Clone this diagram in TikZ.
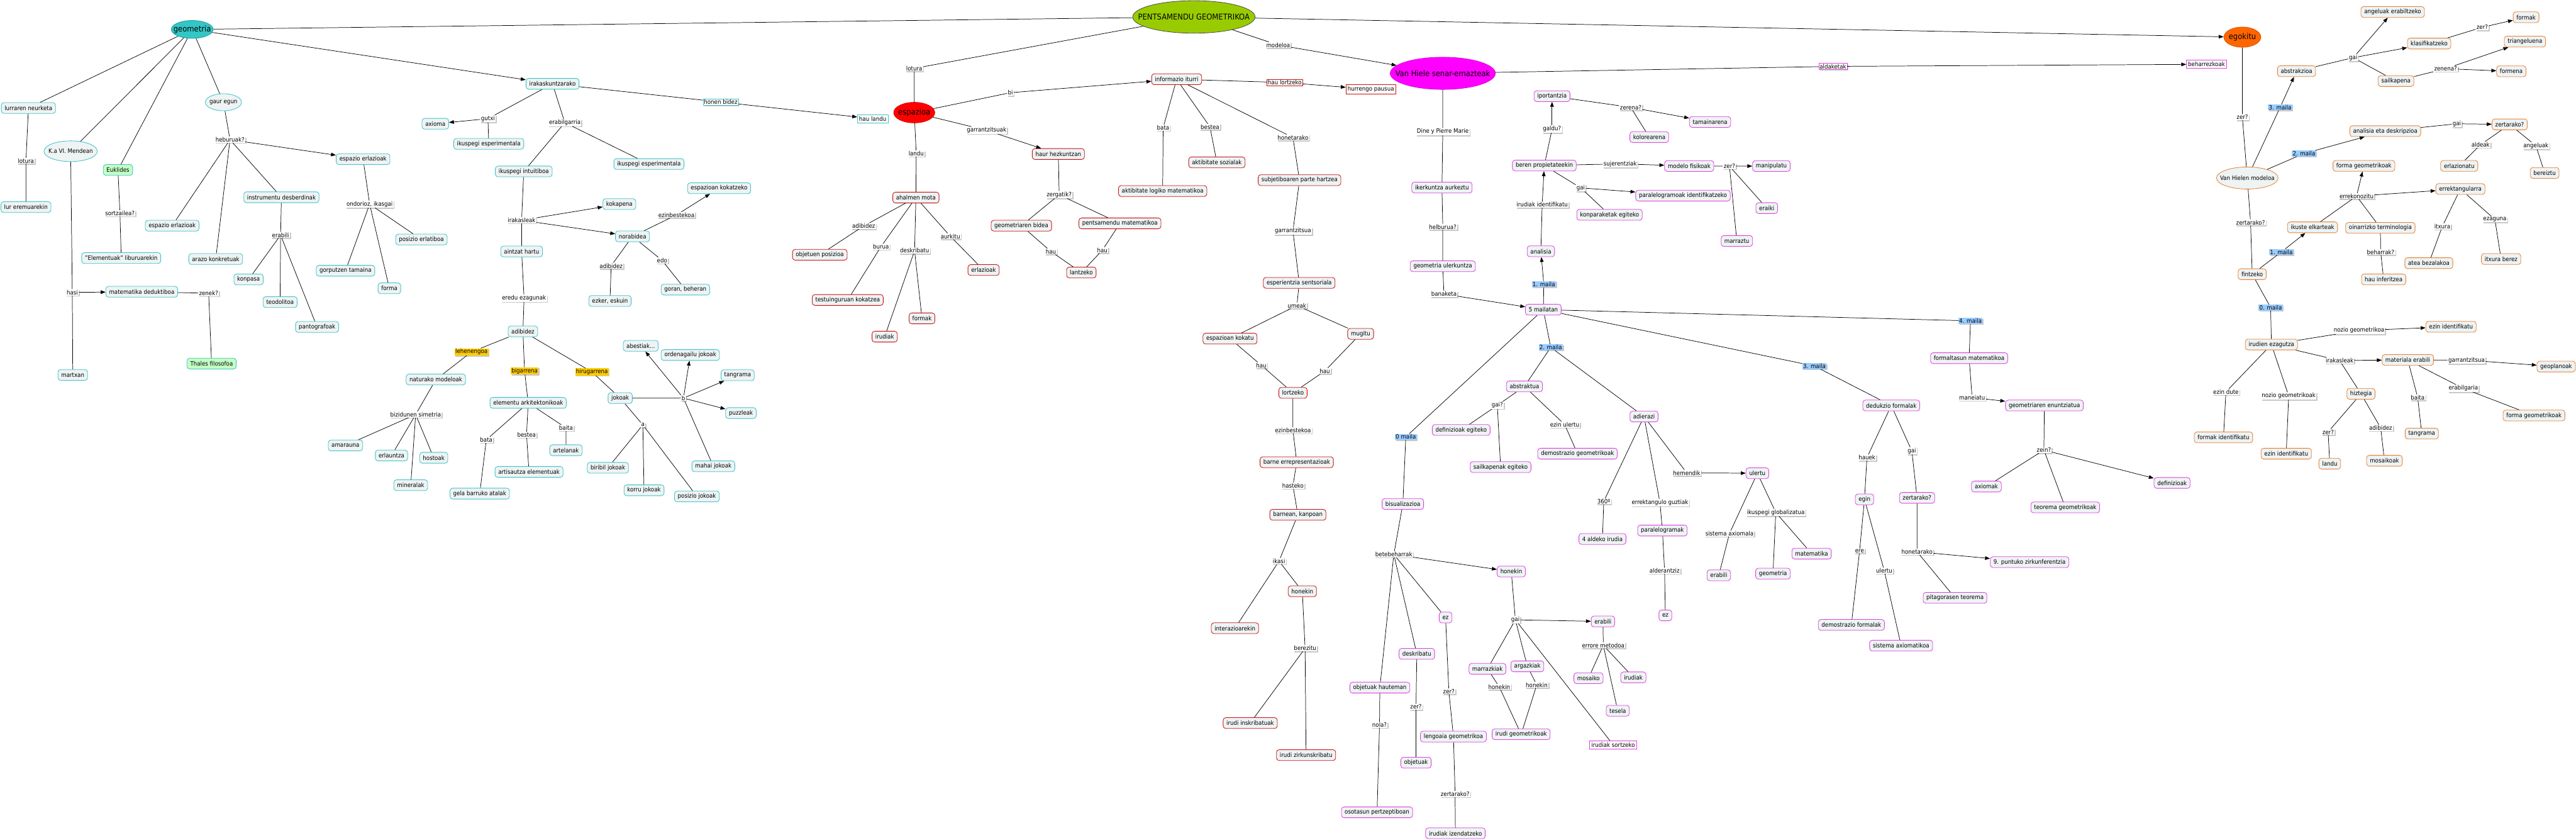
\documentclass[tikz,border=0pt]{standalone}
\usepackage{fontspec}
\setmainfont{DejaVu Sans Condensed}
\usepackage{xcolor}
\usepackage{tikz}
\usetikzlibrary{arrows.meta,shapes.geometric,shadows}

\definecolor{boxfill}{HTML}{EEF3F4}
\definecolor{cyanline}{HTML}{3CC3C8}
\definecolor{redline}{HTML}{CC1010}
\definecolor{magline}{HTML}{E040E0}
\definecolor{orgline}{HTML}{E8802E}
\definecolor{greenfill}{HTML}{C4FFC4}
\definecolor{shadowgray}{HTML}{C8C8C8}
\definecolor{levelblue}{HTML}{99CCFF}
\definecolor{ordyellow}{HTML}{FFCC00}
\definecolor{geocyan}{HTML}{33C6C6}
\definecolor{pentgreen}{HTML}{99CC00}
\definecolor{egokorange}{HTML}{FF6600}
\definecolor{vhmagenta}{HTML}{FF00FF}
\definecolor{espred}{HTML}{FF0000}

\begin{document}
\begin{tikzpicture}[
      x=1mm, y=-1mm,
      every node/.style={font=\fontsize{10.5}{12}\selectfont},
      big/.style={font=\fontsize{14}{16}\selectfont},
      box/.style={draw, rounded corners=1.6mm, fill=boxfill, line width=0.9pt,
        inner xsep=2mm, inner ysep=1mm, minimum height=6.6mm},
      cy/.style={box, draw=cyanline},
      rd/.style={box, draw=redline},
      mg/.style={box, draw=magline},
      og/.style={box, draw=orgline},
      gr/.style={box, draw=cyanline, fill=greenfill},
      ell/.style={ellipse, inner sep=0pt, line width=0.9pt},
      sq/.style={draw, fill=white, line width=0.8pt, inner xsep=1mm, inner ysep=1mm},
      phrase/.style={fill=white, inner xsep=0.5mm, inner ysep=0.4mm,
        general shadow={fill=shadowgray, shadow xshift=0.6mm, shadow yshift=-0.6mm}},
      lvl/.style={phrase, fill=levelblue},
      ord/.style={phrase, fill=ordyellow},
      ln/.style={line width=0.8pt},
      arr/.style={ln, -{Triangle[length=3mm,width=2.2mm]}}
    ]
    \useasboundingbox (0,0) rectangle (1568,511);

    \node[ell, fill=geocyan, draw=geocyan!80!black, minimum width=25.5mm, minimum height=10.9mm,
      label={[big]center:geometria}] (geo) at (117,17.9) {};
    \node[ell, fill=pentgreen, draw=black!70, minimum width=74.5mm, minimum height=19.8mm,
      label={[big]center:PENTSAMENDU GEOMETRIKOA}] (pents) at (726.7,10.3) {};
    \node[ell, fill=espred, draw=espred!85!black, minimum width=25mm, minimum height=12.5mm,
      label={[big]center:espazioa}] (espaz) at (556.5,68.5) {};
    \node[ell, fill=vhmagenta, draw=vhmagenta!85!black, minimum width=64mm, minimum height=19.6mm,
      label={[big]center:Van Hiele senar-emazteak}] (vhiele) at (878.2,44.6) {};
    \node[ell, fill=egokorange, draw=egokorange!85!black, minimum width=22.5mm, minimum height=12.3mm,
      label={[big]center:egokitu}] (egok) at (1364.9,22.6) {};
    \node[ell, fill=boxfill, draw=cyanline, minimum width=32.5mm, minimum height=12.6mm,
      label={center:K.a VI. Mendean}] (kaVI) at (43,92) {};
    \node[ell, fill=boxfill, draw=cyanline, minimum width=22mm, minimum height=10.4mm,
      label={center:gaur egun}] (gaur) at (136,62.2) {};
    \node[ell, fill=boxfill, draw=orgline, minimum width=37.5mm, minimum height=13.4mm,
      label={center:Van Hielen modeloa}] (vhmod) at (1367.9,108.3) {};

    \node[cy] (lurra) at (17.3,65.7) {lurraren neurketa};
    \node[phrase] (lotA) at (15.8,97.8) {lotura};
    \node[cy] (lureremu) at (15.8,126) {lur eremuarekin};
    \node[phrase] (hasi) at (44,177.9) {hasi};
    \node[cy] (matded) at (86.3,177.5) {matematika deduktiboa};
    \node[phrase] (zenek) at (127,178.4) {zenek?};
    \node[gr] (thales) at (128.8,221.2) {Thales filosofoa};
    \node[cy] (martxan) at (44.3,228.1) {martxan};
    \node[gr] (eukl) at (71.8,103.4) {Euklides};
    \node[phrase] (sortz) at (73,129.7) {sortzailea?};
    \node[cy] (elem) at (73.8,157) {"Elementuak" liburuarekin};
    \node[phrase] (hebur) at (140,85) {heburuak?};
    \node[cy] (esperlL) at (104.8,137.3) {espazio erlazioak};
    \node[cy] (esperlR) at (221,96.8) {espazio erlazioak};
    \node[cy] (arazo) at (131.3,157.6) {arazo konkretuak};
    \node[cy] (instr) at (171.3,120) {instrumentu desberdinak};
    \node[phrase] (erabA) at (170.8,143) {erabili};
    \node[cy] (konpasa) at (151.3,170) {konpasa};
    \node[cy] (teodol) at (170.5,183.8) {teodolitoa};
    \node[cy] (panto) at (193,198.9) {pantografoak};
    \node[phrase] (ondor) at (225,124.2) {ondorioz, ikasgai};
    \node[cy] (posiz) at (256.5,145.7) {posizio erlatiboa};
    \node[cy] (gorp) at (210.3,164.7) {gorputzen tamaina};
    \node[cy] (formaA) at (237,175.4) {forma};
    \node[cy] (irak) at (336.3,51) {irakaskuntzarako};
    \node[phrase] (gutxi) at (297,72.2) {gutxi};
    \node[cy] (axioma) at (265,75.3) {axioma};
    \node[cy] (ikesp1) at (297.5,87.5) {ikuspegi esperimentala};
    \node[phrase] (erabilg) at (343.8,74.6) {erabilgarria};
    \node[cy] (ikint) at (318.8,104.3) {ikuspegi intuitiboa};
    \node[cy] (ikesp2) at (395,99.8) {ikuspegi esperimentala};
    \node[phrase] (irakA) at (317.5,134) {irakasleak};
    \node[cy] (kokap) at (377,124.2) {kokapena};
    \node[cy] (norab) at (385,143.8) {norabidea};
    \node[cy] (aintz) at (317.5,153) {aintzat hartu};
    \node[phrase] (adibA) at (372,161.7) {adibidez};
    \node[cy] (ezker) at (371.3,183.1) {ezker, eskuin};
    \node[phrase] (edo) at (403,158.4) {edo};
    \node[cy] (goran) at (417.2,176.2) {goran, beheran};
    \node[phrase] (ezinA) at (411.7,130.8) {ezinbestekoa};
    \node[cy] (espkokz) at (437.7,114.5) {espazioan kokatzeko};
    \node[phrase, draw=cyanline, line width=0.6pt] (honenb) at (438.7,62.1) {honen bidez};
    \node[sq, draw=cyanline] (haulandu) at (531.2,72.2) {hau landu};
    \node[phrase] (eredu) at (319,181.4) {eredu ezagunak};
    \node[cy] (adibB) at (318.3,201.6) {adibidez};
    \node[ord] (lehen) at (287,214.1) {lehenengoa};
    \node[ord] (bigar) at (319.3,225.7) {bigarrena};
    \node[ord] (hirug) at (360.3,226.3) {hirugarrena};
    \node[cy] (natur) at (265.3,230.9) {naturako modeloak};
    \node[phrase] (bizid) at (253,252.2) {bizidunen simetria};
    \node[cy] (amara) at (210.3,271) {amarauna};
    \node[cy] (erlau) at (238.3,277.1) {erlauntza};
    \node[cy] (hosto) at (264,278.5) {hostoak};
    \node[cy] (miner) at (250,295.2) {mineralak};
    \node[cy] (elemark) at (321.5,245.1) {elementu arkitektonikoak};
    \node[phrase] (bataA) at (296,267.6) {bata};
    \node[phrase] (besteaA) at (320.5,264.5) {bestea};
    \node[phrase] (baitaA) at (344.5,260.3) {baita};
    \node[cy] (gela) at (292,300.3) {gela barruko atalak};
    \node[cy] (artis) at (322,287.1) {artisautza elementuak};
    \node[cy] (artel) at (344.5,273.9) {artelanak};
    \node[cy] (jokoak) at (377.5,242.2) {jokoak};
    \node[phrase] (bL) at (416,242.2) {b};
    \node[phrase] (aL) at (391.3,258.5) {a};
    \node[cy] (abest) at (390,210.4) {abestiak...};
    \node[cy] (ordena) at (420.2,216) {ordenagailu jokoak};
    \node[cy] (tangA) at (449,228.3) {tangrama};
    \node[cy] (puzz) at (451,251.3) {puzzleak};
    \node[cy] (mahai) at (434.2,283.7) {mahai jokoak};
    \node[cy] (birib) at (370,284.6) {biribil jokoak};
    \node[cy] (korru) at (392,298.3) {korru jokoak};
    \node[cy] (posjok) at (424.2,302) {posizio jokoak};

    \node[phrase] (lotB) at (556.5,41.6) {lotura};
    \node[phrase] (bi) at (615,56.4) {bi};
    \node[rd] (infit) at (716.2,48.2) {informazio iturri};
    \node[phrase, draw=redline, line width=0.6pt] (haulortz) at (782,50.2) {hau lortzeko};
    \node[sq, draw=redline] (hurreng) at (834.4,54.3) {hurrengo pausua};
    \node[phrase] (modeloa) at (778,27.4) {modeloa};
    \node[phrase] (garrs) at (600.5,79.3) {garrantzitsuak};
    \node[rd] (haurh) at (644.2,93.7) {haur hezkuntzan};
    \node[phrase] (landuA) at (557.7,93.3) {landu};
    \node[phrase] (bataB) at (708,77.7) {bata};
    \node[phrase] (besteaB) at (736.5,77.2) {bestea};
    \node[phrase] (honetA) at (787,83.7) {honetarako};
    \node[rd] (aktsoz) at (740.7,98.8) {aktibitate sozialak};
    \node[rd] (aktlog) at (707.7,116.2) {aktibitate logiko matematikoa};
    \node[rd] (subj) at (791,109.6) {subjetiboaren parte hartzea};
    \node[phrase] (garrA) at (787,140.6) {garrantzitsua};
    \node[rd] (ahal) at (557.5,120.2) {ahalmen mota};
    \node[phrase] (adibC) at (525.7,137.5) {adibidez};
    \node[phrase] (burua) at (536.2,150.1) {burua};
    \node[phrase] (deskA) at (556.7,152.5) {deskribatu};
    \node[phrase] (aurkitu) at (578.5,143.8) {aurkitu};
    \node[rd] (objpos) at (499,155) {objetuen posizioa};
    \node[rd] (erlaz) at (598.7,164.3) {erlazioak};
    \node[rd] (testu) at (516,182.5) {testuinguruan kokatzea};
    \node[rd] (formakA) at (561.2,193.7) {formak};
    \node[rd] (irudiakA) at (538.5,204.8) {irudiak};
    \node[phrase] (zergatik) at (644.7,118.5) {zergatik?};
    \node[rd] (geobid) at (621.7,137.3) {geometriaren bidea};
    \node[rd] (pentmat) at (681.7,135.9) {pentsamendu matematikoa};
    \node[phrase] (hauA) at (639.7,153) {hau};
    \node[phrase] (hauB) at (671,152.2) {hau};
    \node[rd] (lantzeko) at (658.2,165.8) {lantzeko};
    \node[rd] (espsent) at (790.8,172.1) {esperientzia sentsoriala};
    \node[phrase] (umeak) at (789.4,185.9) {umeak};
    \node[rd] (espkok) at (748.7,206) {espazioan kokatu};
    \node[rd] (mugitu) at (828.2,203.1) {mugitu};
    \node[phrase] (hauC) at (767.7,222.2) {hau};
    \node[phrase] (hauD) at (806.4,225.7) {hau};
    \node[rd] (lortz) at (787,239) {lortzeko};
    \node[phrase] (ezinB) at (787,261.8) {ezinbestekoa};
    \node[rd] (barnerr) at (789.3,281.2) {barne errepresentazioak};
    \node[phrase] (hasteko) at (787,295.5) {hasteko};
    \node[rd] (barnkan) at (790,313.2) {barnean, kanpoan};
    \node[phrase] (ikasi) at (778.5,341.4) {ikasi};
    \node[rd] (interaz) at (751.7,382.2) {interazioarekin};
    \node[rd] (honekinR) at (792.7,359.7) {honekin};
    \node[phrase] (berez) at (794.4,394.4) {berezitu};
    \node[rd] (inskr) at (761,439.9) {irudi inskribatuak};
    \node[rd] (zirk) at (795,459.4) {irudi zirkunskribatu};

    \node[phrase, draw=magline, line width=0.6pt] (aldak) at (1115.7,40.4) {aldaketak};
    \node[sq, draw=magline] (beharr) at (1343.1,39.1) {beharrezkoak};
    \node[phrase] (dine) at (878.2,80.1) {Dine y Pierre Marie};
    \node[mg] (iker) at (877.7,114.1) {ikerkuntza aurkeztu};
    \node[phrase] (helb) at (878.2,138) {helburua?};
    \node[mg] (geoul) at (878.2,162) {geometria ulerkuntza};
    \node[phrase] (banak) at (878.9,178.9) {banaketa};
    \node[mg] (mail5) at (939.4,188.4) {5 mailatan};
    \node[lvl] (m1) at (939.7,172.9) {1. maila};
    \node[mg] (analisia) at (937.9,152.9) {analisia};
    \node[phrase] (irudid) at (938.7,124.5) {irudiak identifikatu};
    \node[mg] (berenp) at (940,100.7) {beren propietateekin};
    \node[phrase] (galdu) at (944.7,78.6) {galdu?};
    \node[mg] (iport) at (944.7,58.5) {iportantzia};
    \node[phrase] (zerena) at (992.6,65.3) {zerena?};
    \node[mg] (tamain) at (1040.9,74.2) {tamainarena};
    \node[mg] (kolor) at (1003.9,83.4) {kolorearena};
    \node[phrase] (suj) at (986.2,99.7) {sujerentziak};
    \node[mg] (modfis) at (1028.2,101) {modelo fisikoak};
    \node[phrase] (zerA) at (1052.7,101.1) {zer?};
    \node[mg] (manip) at (1078.2,101) {manipulatu};
    \node[mg] (eraiki) at (1075.4,126.6) {eraiki};
    \node[mg] (marrz) at (1057.2,146.6) {marraztu};
    \node[phrase] (gaiA) at (962.2,114.3) {gai};
    \node[mg] (paral) at (1024.4,119) {paralelogramoak identifikatzeko};
    \node[mg] (konpar) at (979.7,130.7) {konparaketak egiteko};
    \node[lvl] (m2) at (943.9,211.3) {2. maila};
    \node[lvl] (m3) at (1104.4,222.7) {3. maila};
    \node[lvl] (m4) at (1199.4,195.2) {4. maila};
    \node[lvl] (m0) at (855.7,265.8) {0 maila};
    \node[mg] (abstr) at (927.9,235.1) {abstraktua};
    \node[phrase] (gaiB) at (911.4,246.6) {gai?};
    \node[mg] (defeg) at (889.4,261.6) {definizioak egiteko};
    \node[mg] (sailkeg) at (913.4,284.2) {sailkapenak egiteko};
    \node[phrase] (ezinul) at (952.4,258.3) {ezin ulertu};
    \node[mg] (demgeo) at (960.2,276) {demostrazio geometrikoak};
    \node[mg] (adier) at (1000.7,253.4) {adierazi};
    \node[phrase] (hemend) at (1026.7,287.7) {hemendik};
    \node[mg] (ulertuA) at (1069.7,287.9) {ulertu};
    \node[phrase] (l360) at (976.2,305) {360º};
    \node[mg] (aldeko) at (975.4,327.9) {4 aldeko irudia};
    \node[phrase] (errgu) at (1010.4,305.8) {errektangulo guztiak};
    \node[mg] (paralk) at (1011.9,322.8) {paralelogramak};
    \node[phrase] (ikglob) at (1080.9,311.8) {ikuspegi globalizatua};
    \node[phrase] (sisax) at (1052.7,324.6) {sistema axiomala};
    \node[mg] (matem) at (1102.7,336.8) {matematika};
    \node[mg] (dedukz) at (1151.2,246.7) {dedukzio formalak};
    \node[phrase] (hauek) at (1136.4,278.4) {hauek};
    \node[phrase] (gaiC) at (1163.7,274.3) {gai};
    \node[mg] (egin) at (1134.9,303.8) {egin};
    \node[mg] (zertarA) at (1166.9,302.9) {zertarako?};
    \node[phrase] (ere) at (1131.9,335.2) {ere};
    \node[phrase] (honetB) at (1166.9,335.7) {honetarako};
    \node[mg] (bisual) at (853.9,306.6) {bisualizazioa};
    \node[phrase] (betebeh) at (848.4,337.3) {betebeharrak};
    \node[mg] (honekinM) at (919.9,347.7) {honekin};
    \node[mg] (ezA) at (879.9,375.7) {ez};
    \node[mg] (deskB) at (862.4,397.8) {deskribatu};
    \node[mg] (objhaut) at (839.9,418.3) {objetuak hauteman};
    \node[phrase] (nola) at (839.7,440.9) {nola?};
    \node[mg] (osotas) at (838.2,494.2) {osotasun pertzeptiboan};
    \node[phrase] (zerB) at (881.9,420.6) {zer?};
    \node[mg] (lengo) at (884.7,448.1) {lengoaia geometrikoa};
    \node[phrase] (zertarB) at (885.7,483) {zertarako?};
    \node[mg] (irizend) at (885.9,507) {irudiak izendatzeko};
    \node[phrase] (zerC) at (861.9,430) {zer?};
    \node[mg] (objetuak) at (861.9,464) {objetuak};
    \node[phrase] (gaiD) at (922.4,377.1) {gai};
    \node[mg] (erabM) at (975.7,378.1) {erabili};
    \node[phrase] (errmet) at (975.9,392.6) {errore metodoa};
    \node[mg] (mosaiko) at (966.9,412.6) {mosaiko};
    \node[mg] (irudiakM) at (994.2,412.1) {irudiak};
    \node[mg] (tesela) at (984.7,432.4) {tesela};
    \node[mg] (marrazk) at (905.4,406.9) {marrazkiak};
    \node[mg] (argazk) at (929.7,405.4) {argazkiak};
    \node[phrase] (honekL) at (912.6,417.9) {honekin};
    \node[phrase] (honekR) at (935.4,416.7) {honekin};
    \node[mg] (irgeo) at (925.9,446.7) {irudi geometrikoak};
    \node[sq, draw=magline] (irsortz) at (981.9,453.1) {irudiak sortzeko};
    \node[phrase] (alder) at (1013.2,347.1) {alderantziz};
    \node[mg] (ezB) at (1013.7,374.4) {ez};
    \node[mg] (erabN) at (1046.2,350) {erabili};
    \node[mg] (geometriaM) at (1079.2,349) {geometria};
    \node[mg] (demform) at (1126.9,380.2) {demostrazio formalak};
    \node[phrase] (ulertuB) at (1146.9,347.1) {ulertu};
    \node[mg] (sisaxk) at (1157.2,392.8) {sistema axiomatikoa};
    \node[mg] (pitag) at (1190,363.7) {pitagorasen teorema};
    \node[mg] (puntu9) at (1235.4,342) {9. puntuko zirkunferentzia};
    \node[mg] (formalt) at (1198.6,217.9) {formaltasun matematikoa};
    \node[phrase] (maneiatu) at (1200.4,241.9) {maneiatu};
    \node[mg] (geoenun) at (1244.4,246.7) {geometriaren enuntziatua};
    \node[phrase] (zein) at (1244.1,273.8) {zein?};
    \node[mg] (axiomak) at (1209.1,296) {axiomak};
    \node[mg] (teorem) at (1257.1,308.7) {teorema geometrikoak};
    \node[mg] (definiz) at (1322.1,293.8) {definizioak};

    \node[phrase] (zerD) at (1364.9,71.3) {zer?};
    \node[lvl] (om3) at (1387.9,65.3) {3. maila};
    \node[og] (abstrz) at (1397.9,43.3) {abstrakzioa};
    \node[phrase] (gaiE) at (1432.4,35.1) {gai};
    \node[og] (angerab) at (1456.4,7.3) {angeluak erabiltzeko};
    \node[og] (klasif) at (1478.6,26.5) {klasifikatzeko};
    \node[phrase] (zerE) at (1510.9,16.6) {zer?};
    \node[og] (formakB) at (1537.6,10.5) {formak};
    \node[og] (sailk) at (1458.4,49.3) {sailkapena};
    \node[phrase] (zenena) at (1488.6,41.8) {zenena?};
    \node[og] (triang) at (1536.9,25.3) {triangeluena};
    \node[og] (formena) at (1528.6,43.4) {formena};
    \node[lvl] (om2) at (1402.4,93.4) {2. maila};
    \node[og] (anades) at (1451.9,79.8) {analisia eta deskripzioa};
    \node[phrase] (gaiF) at (1495.4,75.3) {gai};
    \node[og] (zertarC) at (1527.6,75.7) {zertarako?};
    \node[phrase] (aldeak) at (1509.9,88) {aldeak};
    \node[phrase] (angel) at (1543.6,88.7) {angeluak};
    \node[og] (erlazio) at (1496.9,100.9) {erlazionatu};
    \node[og] (bereiz) at (1548.9,105.2) {bereiztu};
    \node[og] (formgeoA) at (1438.9,100.9) {forma geometrikoak};
    \node[phrase] (errek) at (1434.4,119.3) {errekonozitu};
    \node[og] (errekt) at (1497.6,115) {errektangularra};
    \node[og] (ikelk) at (1407.6,138.3) {ikuste elkarteak};
    \node[og] (oinarr) at (1448.9,138.6) {oinarrizko terminologia};
    \node[phrase] (zertarD) at (1369.9,135.3) {zertarako?};
    \node[og] (fintz) at (1370.9,166.8) {fintzeko};
    \node[lvl] (om1) at (1388.6,153.3) {1. maila};
    \node[phrase] (beharrak) at (1449.1,153.3) {beharrak?};
    \node[og] (hauinf) at (1450.9,170) {hau inferitzea};
    \node[phrase] (itxura) at (1486.6,137.8) {itxura};
    \node[phrase] (ezaguna) at (1518.6,133.5) {ezaguna};
    \node[og] (atea) at (1478.4,160.1) {atea bezalakoa};
    \node[og] (itxberez) at (1522.4,157.6) {itxura berez};
    \node[lvl] (om0) at (1382.1,187.1) {0. maila};
    \node[og] (iruez) at (1382.6,209.6) {irudien ezagutza};
    \node[phrase] (nozioA) at (1435.9,201.1) {nozio geometrikoa};
    \node[og] (ezinidA) at (1491.9,198.8) {ezin identifikatu};
    \node[phrase] (irakB) at (1424.1,219.3) {irakasleak};
    \node[og] (materi) at (1465.6,219) {materiala erabili};
    \node[phrase] (garrB) at (1501.4,219.1) {garrantzitsua};
    \node[og] (geopl) at (1555.9,223) {geoplanoak};
    \node[phrase] (ezindute) at (1354.9,238.4) {ezin dute};
    \node[phrase] (nozioB) at (1393.1,240.9) {nozio geometrikoak};
    \node[og] (hizt) at (1437.1,239.6) {hiztegia};
    \node[phrase] (zerF) at (1417.1,262.8) {zer?};
    \node[phrase] (adibD) at (1449.1,260.3) {adibidez};
    \node[phrase] (baitaB) at (1471.6,241.8) {baita};
    \node[phrase] (erabilga) at (1499.4,236.3) {erabilgaria};
    \node[og] (formgeoB) at (1542.4,252.8) {forma geometrikoak};
    \node[og] (formid) at (1353.4,266.1) {formak identifikatu};
    \node[og] (ezinidB) at (1391.6,276) {ezin identifikatu};
    \node[og] (landuB) at (1418.1,282.1) {landu};
    \node[og] (mosaik) at (1451.4,280.3) {mosaikoak};
    \node[og] (tangB) at (1474.1,263.8) {tangrama};

    \draw[ln] (geo) -- (pents);
    \draw[ln] (geo) -- (lurra) -- (lotA) -- (lureremu);
    \draw[ln] (geo) -- (kaVI) -- (hasi) -- (martxan);
    \draw[arr] (hasi) -- (matded);
    \draw[ln] (matded) -- (zenek) -- (thales);
    \draw[ln] (geo) -- (eukl) -- (sortz) -- (elem);
    \draw[ln] (geo) -- (gaur) -- (hebur) -- (esperlL);
    \draw[ln] (hebur) -- (arazo);
    \draw[ln] (hebur) -- (instr) -- (erabA) -- (konpasa);
    \draw[ln] (erabA) -- (teodol);
    \draw[ln] (erabA) -- (panto);
    \draw[arr] (hebur) -- (esperlR);
    \draw[ln] (esperlR) -- (ondor) -- (posiz);
    \draw[ln] (ondor) -- (gorp);
    \draw[ln] (ondor) -- (formaA);
    \draw[arr] (geo) -- (irak);
    \draw[ln] (irak) -- (honenb);
    \draw[arr] (honenb) -- (haulandu);
    \draw[ln] (irak) -- (gutxi) -- (ikesp1);
    \draw[arr] (gutxi) -- (axioma);
    \draw[ln] (irak) -- (erabilg) -- (ikint) -- (irakA) -- (aintz) -- (eredu) -- (adibB);
    \draw[ln] (erabilg) -- (ikesp2);
    \draw[arr] (irakA) -- (kokap);
    \draw[arr] (irakA) -- (norab);
    \draw[ln] (norab) -- (adibA) -- (ezker);
    \draw[ln] (norab) -- (edo) -- (goran);
    \draw[ln] (norab) -- (ezinA);
    \draw[arr] (ezinA) -- (espkokz);
    \draw[ln] (adibB) -- (lehen) -- (natur) -- (bizid) -- (amara);
    \draw[ln] (bizid) -- (erlau);
    \draw[ln] (bizid) -- (hosto);
    \draw[ln] (bizid) -- (miner);
    \draw[ln] (adibB) -- (bigar) -- (elemark) -- (bataA) -- (gela);
    \draw[ln] (elemark) -- (besteaA) -- (artis);
    \draw[ln] (elemark) -- (baitaA) -- (artel);
    \draw[ln] (adibB) -- (hirug) -- (jokoak) -- (bL) -- (mahai);
    \draw[arr] (bL) -- (abest);
    \draw[arr] (bL) -- (ordena);
    \draw[arr] (bL) -- (tangA);
    \draw[arr] (bL) -- (puzz);
    \draw[ln] (jokoak) -- (aL) -- (birib);
    \draw[ln] (aL) -- (korru);
    \draw[ln] (aL) -- (posjok);

    \draw[ln] (pents) -- (lotB) -- (espaz) -- (bi);
    \draw[arr] (bi) -- (infit);
    \draw[ln] (espaz) -- (garrs);
    \draw[arr] (garrs) -- (haurh);
    \draw[ln] (espaz) -- (landuA) -- (ahal) -- (adibC) -- (objpos);
    \draw[ln] (ahal) -- (burua) -- (testu);
    \draw[ln] (ahal) -- (deskA) -- (irudiakA);
    \draw[ln] (deskA) -- (formakA);
    \draw[ln] (ahal) -- (aurkitu) -- (erlaz);
    \draw[ln] (haurh) -- (zergatik) -- (geobid) -- (hauA) -- (lantzeko);
    \draw[ln] (zergatik) -- (pentmat) -- (hauB) -- (lantzeko);
    \draw[ln] (infit) -- (bataB) -- (aktlog);
    \draw[ln] (infit) -- (besteaB) -- (aktsoz);
    \draw[ln] (infit) -- (honetA) -- (subj) -- (garrA) -- (espsent) -- (umeak) -- (espkok) -- (hauC) -- (lortz);
    \draw[ln] (umeak) -- (mugitu) -- (hauD) -- (lortz);
    \draw[ln] (lortz) -- (ezinB) -- (barnerr) -- (hasteko) -- (barnkan) -- (ikasi) -- (interaz);
    \draw[ln] (ikasi) -- (honekinR) -- (berez) -- (inskr);
    \draw[ln] (berez) -- (zirk);
    \draw[ln] (infit) -- (haulortz);
    \draw[arr] (haulortz) -- (hurreng);
    \draw[ln] (pents) -- (modeloa);
    \draw[arr] (modeloa) -- (vhiele);
    \draw[arr] (pents) -- (egok);

    \draw[ln] (vhiele) -- (aldak);
    \draw[arr] (aldak) -- (beharr);
    \draw[ln] (vhiele) -- (dine) -- (iker) -- (helb) -- (geoul) -- (banak);
    \draw[arr] (banak) -- (mail5);
    \draw[ln] (mail5) -- (m1);
    \draw[arr] (m1) -- (analisia);
    \draw[ln] (analisia) -- (irudid);
    \draw[arr] (irudid) -- (berenp);
    \draw[ln] (berenp) -- (galdu);
    \draw[arr] (galdu) -- (iport);
    \draw[ln] (iport) -- (zerena) -- (kolor);
    \draw[arr] (zerena) -- (tamain);
    \draw[ln] (berenp) -- (suj);
    \draw[arr] (suj) -- (modfis);
    \draw[ln] (modfis) -- (zerA) -- (eraiki);
    \draw[ln] (zerA) -- (marrz);
    \draw[arr] (zerA) -- (manip);
    \draw[ln] (berenp) -- (gaiA) -- (konpar);
    \draw[arr] (gaiA) -- (paral);
    \draw[ln] (mail5) -- (m2) -- (abstr) -- (gaiB) -- (defeg);
    \draw[ln] (gaiB) -- (sailkeg);
    \draw[ln] (abstr) -- (ezinul) -- (demgeo);
    \draw[ln] (m2) -- (adier) -- (l360) -- (aldeko);
    \draw[ln] (adier) -- (errgu) -- (paralk) -- (alder) -- (ezB);
    \draw[ln] (adier) -- (hemend);
    \draw[arr] (hemend) -- (ulertuA);
    \draw[ln] (ulertuA) -- (sisax) -- (erabN);
    \draw[ln] (ulertuA) -- (ikglob) -- (matem);
    \draw[ln] (ikglob) -- (geometriaM);
    \draw[ln] (mail5) -- (m3) -- (dedukz) -- (hauek) -- (egin) -- (ere) -- (demform);
    \draw[ln] (egin) -- (ulertuB) -- (sisaxk);
    \draw[ln] (dedukz) -- (gaiC) -- (zertarA) -- (honetB) -- (pitag);
    \draw[arr] (honetB) -- (puntu9);
    \draw[ln] (mail5) -- (m4) -- (formalt) -- (maneiatu);
    \draw[arr] (maneiatu) -- (geoenun);
    \draw[ln] (geoenun) -- (zein) -- (axiomak);
    \draw[ln] (zein) -- (teorem);
    \draw[arr] (zein) -- (definiz);
    \draw[ln] (mail5) -- (m0) -- (bisual) -- (betebeh) -- (objhaut) -- (nola) -- (osotas);
    \draw[ln] (betebeh) -- (deskB) -- (zerC) -- (objetuak);
    \draw[ln] (betebeh) -- (ezA) -- (zerB) -- (lengo) -- (zertarB) -- (irizend);
    \draw[arr] (betebeh) -- (honekinM);
    \draw[ln] (honekinM) -- (gaiD) -- (marrazk) -- (honekL) -- (irgeo);
    \draw[ln] (gaiD) -- (argazk) -- (honekR) -- (irgeo);
    \draw[ln] (gaiD) -- (irsortz);
    \draw[arr] (gaiD) -- (erabM);
    \draw[ln] (erabM) -- (errmet) -- (mosaiko);
    \draw[ln] (errmet) -- (irudiakM);
    \draw[ln] (errmet) -- (tesela);

    \draw[ln] (egok) -- (zerD) -- (vhmod) -- (om3);
    \draw[arr] (om3) -- (abstrz);
    \draw[ln] (abstrz) -- (gaiE) -- (sailk) -- (zenena);
    \draw[arr] (gaiE) -- (angerab);
    \draw[arr] (gaiE) -- (klasif);
    \draw[ln] (klasif) -- (zerE);
    \draw[arr] (zerE) -- (formakB);
    \draw[arr] (zenena) -- (triang);
    \draw[arr] (zenena) -- (formena);
    \draw[ln] (vhmod) -- (om2);
    \draw[arr] (om2) -- (anades);
    \draw[ln] (anades) -- (gaiF);
    \draw[arr] (gaiF) -- (zertarC);
    \draw[ln] (zertarC) -- (aldeak) -- (erlazio);
    \draw[ln] (zertarC) -- (angel) -- (bereiz);
    \draw[ln] (vhmod) -- (zertarD) -- (fintz) -- (om1);
    \draw[arr] (om1) -- (ikelk);
    \draw[ln] (ikelk) -- (errek) -- (oinarr) -- (beharrak) -- (hauinf);
    \draw[arr] (errek) -- (formgeoA);
    \draw[arr] (errek) -- (errekt);
    \draw[ln] (errekt) -- (itxura) -- (atea);
    \draw[ln] (errekt) -- (ezaguna) -- (itxberez);
    \draw[ln] (fintz) -- (om0) -- (iruez) -- (nozioA);
    \draw[arr] (nozioA) -- (ezinidA);
    \draw[ln] (iruez) -- (irakB) -- (hizt) -- (zerF) -- (landuB);
    \draw[arr] (irakB) -- (materi);
    \draw[ln] (hizt) -- (adibD) -- (mosaik);
    \draw[ln] (materi) -- (garrB);
    \draw[arr] (garrB) -- (geopl);
    \draw[ln] (materi) -- (baitaB) -- (tangB);
    \draw[ln] (materi) -- (erabilga) -- (formgeoB);
    \draw[ln] (iruez) -- (ezindute) -- (formid);
    \draw[ln] (iruez) -- (nozioB) -- (ezinidB);
  \end{tikzpicture}
\end{document}
